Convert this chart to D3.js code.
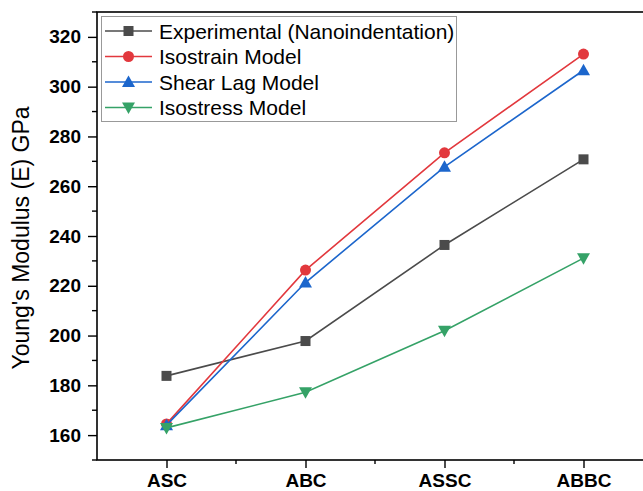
<!DOCTYPE html>
<html>
<head>
<meta charset="utf-8">
<script src="https://cdn.jsdelivr.net/npm/d3@7"></script>
<style>
  html, body { margin: 0; padding: 0; background: #fff; overflow: hidden; }
  svg { display: block; }
</style>
</head>
<body>
<div id="container"></div>
<script>
const categories = ["ASC", "ABC", "ASSC", "ABBC"];
const experimental = [183.8, 197.8, 236.4, 270.8];
const isostrain = [164.5, 226.3, 273.4, 313.1];
const shearLag = [164.0, 221.3, 267.8, 306.6];
const isostress = [162.9, 177.2, 201.9, 231.1];
const yTicks = [160, 180, 200, 220, 240, 260, 280, 300, 320];

const series = [
  { name: "Experimental (Nanoindentation)", values: experimental, color: "#4b4b4b", symbol: "square" },
  { name: "Isostrain Model", values: isostrain, color: "#e2383d", symbol: "circle" },
  { name: "Shear Lag Model", values: shearLag, color: "#1c66cc", symbol: "up" },
  { name: "Isostress Model", values: isostress, color: "#35a267", symbol: "down" }
];

const width = 643, height = 491;
const margin = { left: 97, top: 12, bottom: 460, right: 653 };

const svg = d3.create("svg")
  .attr("width", width)
  .attr("height", height)
  .style("font-family", "Arial, 'Liberation Sans', sans-serif");

const x = d3.scaleLinear().domain([0.5, 4.5]).range([margin.left, margin.right]);
const y = d3.scaleLinear().domain([150, 330]).range([margin.bottom, margin.top]);

// frame
svg.append("rect")
  .attr("x", margin.left).attr("y", margin.top)
  .attr("width", margin.right - margin.left).attr("height", margin.bottom - margin.top)
  .attr("fill", "none").attr("stroke", "#000").attr("stroke-width", 1.6);

// x axis
const xAxis = d3.axisBottom(x)
  .tickValues([1, 2, 3, 4])
  .tickSize(8)
  .tickFormat(d => categories[d - 1]);
const gx = svg.append("g").attr("transform", `translate(0,${margin.bottom})`).call(xAxis);
gx.select(".domain").remove();
gx.selectAll(".tick line").attr("stroke-width", 1.4);
gx.selectAll(".tick text")
  .attr("dy", "0")
  .attr("y", 27)
  .style("font-size", "19px").style("font-weight", "bold").attr("fill", "#000");

// x minor ticks
svg.append("g").selectAll("line")
  .data([1.5, 2.5, 3.5, 4.5])
  .join("line")
  .attr("x1", d => x(d)).attr("x2", d => x(d))
  .attr("y1", margin.bottom).attr("y2", margin.bottom + 4)
  .attr("stroke", "#000").attr("stroke-width", 1.4);

// y axis
const yAxis = d3.axisLeft(y).tickValues(yTicks).tickSize(9).tickPadding(7);
const gy = svg.append("g").attr("transform", `translate(${margin.left},0)`).call(yAxis);
gy.select(".domain").remove();
gy.selectAll(".tick line").attr("stroke-width", 1.4);
gy.selectAll(".tick text")
  .style("font-size", "19px").style("font-weight", "bold").attr("fill", "#000");

// y minor ticks
svg.append("g").selectAll("line")
  .data(d3.range(150, 331, 10).filter(v => v % 20 !== 0))
  .join("line")
  .attr("x1", margin.left - 5).attr("x2", margin.left)
  .attr("y1", d => y(d)).attr("y2", d => y(d))
  .attr("stroke", "#000").attr("stroke-width", 1.4);

// y title
svg.append("text")
  .attr("transform", `translate(29,${(margin.top + margin.bottom) / 2 + 2}) rotate(-90)`)
  .attr("text-anchor", "middle")
  .style("font-size", "23px")
  .text("Young's Modulus (E) GPa");

function marker(g, symbol, color, cx, cy) {
  if (symbol === "square") {
    g.append("rect").attr("x", cx - 5).attr("y", cy - 5).attr("width", 10).attr("height", 10).attr("fill", color);
  } else if (symbol === "circle") {
    g.append("circle").attr("cx", cx).attr("cy", cy).attr("r", 5.5).attr("fill", color);
  } else if (symbol === "up") {
    g.append("path").attr("d", `M${cx},${cy - 6.5}L${cx + 6.5},${cy + 5}L${cx - 6.5},${cy + 5}Z`).attr("fill", color);
  } else {
    g.append("path").attr("d", `M${cx},${cy + 6.5}L${cx + 6.5},${cy - 5}L${cx - 6.5},${cy - 5}Z`).attr("fill", color);
  }
}

const line = d3.line().x((d, i) => x(i + 1)).y(d => y(d));

series.forEach(s => {
  const g = svg.append("g");
  g.append("path")
    .attr("d", line(s.values))
    .attr("fill", "none")
    .attr("stroke", s.color)
    .attr("stroke-width", 1.6);
  s.values.forEach((v, i) => marker(g, s.symbol, s.color, x(i + 1), y(v)));
});

// legend
const legend = svg.append("g");
legend.append("rect")
  .attr("x", 101.5).attr("y", 16.5).attr("width", 355).attr("height", 105)
  .attr("fill", "#fff").attr("stroke", "#999").attr("stroke-width", 1);
series.forEach((s, i) => {
  const ly = 31 + i * 25.5;
  legend.append("line")
    .attr("x1", 105).attr("x2", 152).attr("y1", ly).attr("y2", ly)
    .attr("stroke", s.color).attr("stroke-width", 1.6);
  marker(legend, s.symbol, s.color, 128.5, ly);
  legend.append("text")
    .attr("x", 159).attr("y", ly + 7.5)
    .style("font-size", "21px")
    .attr("fill", "#000")
    .text(s.name);
});

document.getElementById("container").append(svg.node());
</script>
</body>
</html>
